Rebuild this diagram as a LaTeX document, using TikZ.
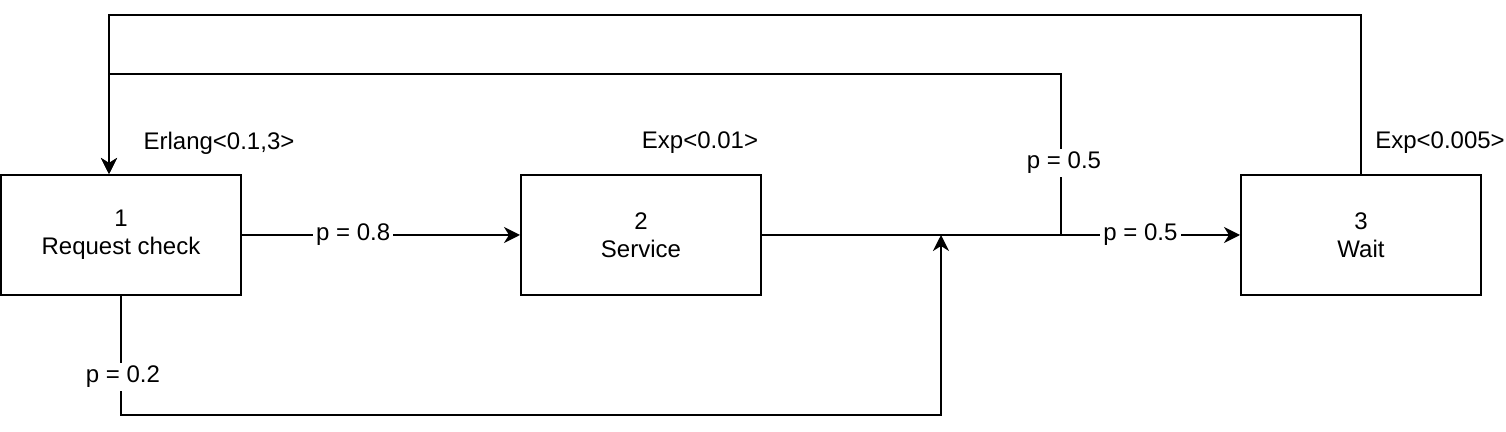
\documentclass[tikz,border=0pt]{standalone}
\usepackage{fontspec}
\setmainfont{Liberation Sans}
\usetikzlibrary{arrows.meta,calc}
\begin{document}
\begin{tikzpicture}[x=0.5pt,y=-0.5pt,
  box/.style={draw,line width=1pt,minimum width=120pt,minimum height=60pt,inner sep=0pt,align=center,font=\fontsize{12pt}{14pt}\selectfont},
  conn/.style={line width=1pt},
  arr/.style={conn,-{Stealth[length=8pt,width=8pt,inset=2.5pt]}},
  lbl/.style={fill=white,inner sep=1.5pt,font=\fontsize{12pt}{14pt}\selectfont},
  txt/.style={inner sep=0pt,font=\fontsize{12pt}{14pt}\selectfont}]
\useasboundingbox (0,0) rectangle (1506,432);
\node[box] (b1) at (121,235) {1\\Request check};
\node[box] (b2) at (641,235) {2\\Service};
\node[box] (b3) at (1361,235) {3\\Wait};
\coordinate (j) at (1061,235);
\coordinate (m) at (941,235);
\node[txt] (t1) at (219,143) {Erlang<0.1,3>};
\node[txt] (t2) at (700,143) {Exp<0.01>};
\node[txt] (t3) at (1440,143) {Exp<0.005>};
% 1 -> 2
\draw[arr] (b1.east) -- node[lbl,pos=0.4] {p = 0.8} (b2.west);
% 2 -> junction -> 3
\draw[conn] (b2.east) -- (j);
\draw[arr] (j) -- node[lbl,pos=0.444] {p = 0.5} (b3.west);
% junction -> 1
\draw[arr] (j) -- (1061,74) -- (109,74) -- ($(b1.north)+(-12,0)$);
\node[lbl] (l5) at (1064,163) {p = 0.5};
% 3 -> 1
\draw[arr] (b3.north) -- (1361,15) -- (109,15) -- ($(b1.north)+(-12,0)$);
% 1 -> m
\draw[arr] (b1.south) -- (121,415) -- (941,415) -- (m);
\node[lbl] (l2) at (123,377) {p = 0.2};
\end{tikzpicture}
\end{document}
